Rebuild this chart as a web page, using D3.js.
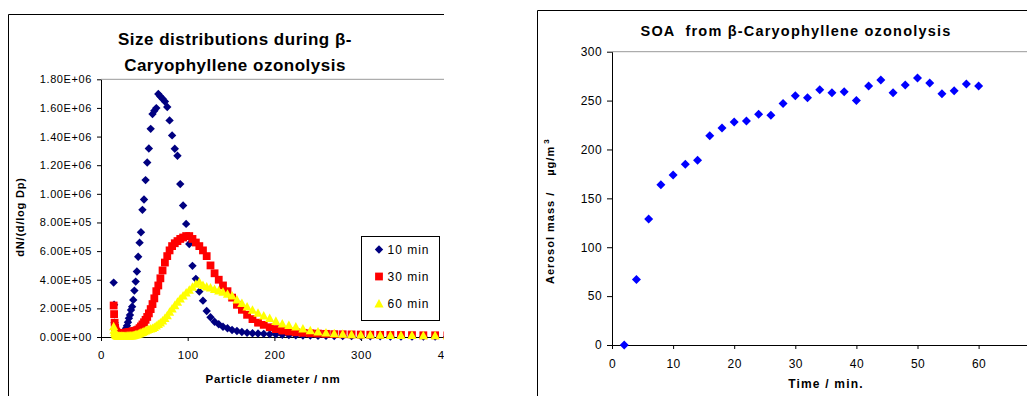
<!DOCTYPE html>
<html>
<head>
<meta charset="utf-8">
<script src="https://cdn.jsdelivr.net/npm/d3@7"></script>
<style>
  body { margin: 0; background: #fff; }
  svg { display: block; font-family: "Liberation Sans", Arial, sans-serif; }
  .pre { white-space: pre; }
</style>
</head>
<body>
<div id="chart"></div>
<script>
// particle diameters (nm), SMPS bins
const diameters = [14.6, 15.1, 15.7, 16.3, 16.8, 17.5, 18.1, 18.8, 19.5, 20.2, 20.9, 21.7, 22.5, 23.3, 24.1, 25.0,
  25.9, 26.9, 27.9, 28.9, 30.0, 31.1, 32.2, 33.4, 34.6, 35.9, 37.2, 38.5, 40.0, 41.4, 42.9, 44.5, 46.1, 47.8,
  49.6, 51.4, 53.3, 55.2, 57.3, 59.4, 61.5, 63.8, 66.1, 68.5, 71.0, 73.7, 76.4, 79.1, 82.0, 85.1, 88.2, 91.4,
  94.7, 98.2, 101.8, 105.5, 109.4, 113.4, 117.6, 121.9, 126.3, 131.0, 135.8, 140.7, 145.9, 151.2, 156.8, 162.5,
  168.5, 174.7, 181.1, 187.7, 194.6, 201.7, 209.1, 216.7, 224.7, 232.9, 241.4, 250.3, 259.5, 269.0, 278.8, 289.0,
  299.6, 310.6, 322.0, 333.8, 346.0, 358.7, 371.8, 385.4, 399.5];

const min10 = [380000, 225000, 100000, 50000, 25000, 15000, 10000, 8000, 8000, 9000, 11000, 13000, 16000, 19000,
  22000, 26000, 30000, 36000, 45000, 61000, 79000, 103000, 131000, 154000, 189000, 212000, 259000, 324000, 387000,
  457000, 561000, 659000, 732000, 888000, 960000, 1096000, 1219000, 1317000, 1454000, 1557000, 1580000, 1599000,
  1697000, 1680000, 1664000, 1645000, 1606000, 1513000, 1408000, 1315000, 1266000, 1068000, 918000, 790000,
  650000, 497000, 406000, 317000, 254000, 182000, 138000, 107000, 89000, 72000, 61000, 49000, 42000, 35000,
  30000, 26000, 24000, 22000, 20000, 18000, 16000, 14000, 12000, 11000, 10000, 9000, 8000, 7000, 7000, 6000,
  6000, 5000, 5000, 4000, 4000, 4000, 3000, 3000, 3000];

const min30 = [220000, 160000, 100000, 65000, 45000, 36000, 31000, 28000, 26000, 25000, 25000, 25000, 25000,
  25000, 26000, 26000, 27000, 28000, 29000, 30000, 31000, 32000, 33000, 34000, 36000, 38000, 40000, 42000, 44000,
  47000, 52000, 62000, 74000, 88000, 103000, 120000, 140000, 165000, 195000, 230000, 270000, 320000, 360000,
  410000, 465000, 520000, 565000, 605000, 635000, 655000, 670000, 685000, 695000, 705000, 705000, 685000, 660000,
  635000, 605000, 565000, 500000, 445000, 400000, 360000, 320000, 275000, 225000, 190000, 155000, 125000, 100000,
  85000, 68000, 55000, 45000, 38000, 33000, 29000, 26000, 24000, 22000, 20000, 19000, 18000, 17000, 16000, 15000,
  14000, 14000, 13000, 12000, 12000, 11000];

const min60 = [75000, 50000, 35000, 25000, 18000, 14000, 11000, 9000, 8000, 7000, 6000, 6000, 6000, 6000, 6000,
  6000, 6000, 7000, 7000, 7000, 8000, 8000, 8000, 9000, 9000, 10000, 12000, 14000, 16000, 19000, 22000, 26000,
  30000, 35000, 40000, 45000, 50000, 55000, 58000, 63000, 70000, 80000, 90000, 100000, 115000, 132000, 152000,
  175000, 198000, 222000, 245000, 268000, 290000, 310000, 330000, 350000, 372000, 385000, 362000, 352000, 345000,
  335000, 325000, 315000, 302000, 290000, 262000, 236000, 212000, 190000, 168000, 150000, 132000, 112000, 94000,
  83000, 72000, 58000, 47000, 38000, 31000, 26000, 22000, 19000, 17000, 16000, 15000, 14000, 13000, 13000, 12000,
  12000, 11000];

const seriesNames = ["10 min", "30 min", "60 min"];

// SOA mass vs time
const times = [2, 4, 6, 8, 10, 12, 14, 16, 18, 20, 22, 24, 26, 28, 30, 32, 34, 36, 38, 40, 42, 44, 46, 48, 50,
  52, 54, 56, 58, 60];
const aerosolMass = [0, 67, 129, 164, 174, 185, 189, 214, 222, 228, 229, 236, 235, 247, 255, 253, 261, 258, 259,
  250, 265, 271, 258, 266, 273, 268, 257, 260, 267, 265];

const leftYTicks = [0, 200000, 400000, 600000, 800000, 1000000, 1200000, 1400000, 1600000, 1800000];
const leftXTicks = [0, 100, 200, 300, 400];
const rightYTicks = [0, 50, 100, 150, 200, 250, 300];
const rightXTicks = [0, 10, 20, 30, 40, 50, 60];

const W = 1027, H = 396;
const svg = d3.select("#chart").append("svg").attr("width", W).attr("height", H);

// marker paths
const diamond = r => `M0,${-r}L${r},0L0,${r}L${-r},0Z`;
const square = r => `M${-r},${-r}H${r}V${r}H${-r}Z`;
const triangle = r => `M0,${-r}L${r},${r * 0.85}L${-r},${r * 0.85}Z`;

// "1.80E+06" style
const fmtE = v => {
  if (v === 0) return "0.00E+00";
  const e = Math.floor(Math.log10(v));
  const m = v / Math.pow(10, e);
  return m.toFixed(2) + "E+" + String(e).padStart(2, "0");
};

function styleAxis(g, size, spacing) {
  g.select(".domain").attr("stroke", "#000");
  g.selectAll(".tick line").attr("stroke", "#000");
  g.selectAll(".tick text").attr("fill", "#000").attr("font-size", size).attr("letter-spacing", spacing);
}

// ---------- left chart ----------
svg.append("clipPath").attr("id", "leftClip")
  .append("rect").attr("x", 0).attr("y", 0).attr("width", 444).attr("height", H);

const left = svg.append("g").attr("clip-path", "url(#leftClip)");

const xL = d3.scaleLinear().domain([0, 500]).range([101, 534.5]);
const yL = d3.scaleLinear().domain([0, 1800000]).range([337, 79.3]);

left.append("path").attr("d", "M8.5,396V14.5H444").attr("fill", "none").attr("stroke", "#000");
left.append("line").attr("x1", xL(0)).attr("x2", 444).attr("y1", yL(1800000)).attr("y2", yL(1800000))
  .attr("stroke", "#999");

left.append("g").attr("transform", `translate(${xL(0)},0)`)
  .call(d3.axisLeft(yL).tickValues(leftYTicks).tickFormat(fmtE).tickSize(4).tickPadding(5).tickSizeOuter(0))
  .call(g => styleAxis(g, 11, 0.6));

left.append("g").attr("transform", `translate(0,${yL(0)})`)
  .call(d3.axisBottom(xL).tickValues(leftXTicks).tickSize(4).tickPadding(10).tickSizeOuter(0))
  .call(g => styleAxis(g, 11.5, 0.6));

const sizeSeries = [
  { name: seriesNames[0], values: min10, color: "#000080", shape: diamond(4.2) },
  { name: seriesNames[1], values: min30, color: "#ff0000", shape: square(3.9) },
  { name: seriesNames[2], values: min60, color: "#ffff00", shape: triangle(4.6) }
];

sizeSeries.forEach(s => {
  left.append("g").selectAll("path")
    .data(diameters.map((d, i) => [d, s.values[i]]))
    .join("path")
    .attr("d", s.shape)
    .attr("fill", s.color)
    .attr("transform", d => `translate(${xL(d[0])},${yL(d[1])})`);
});

const titleL = left.append("text").attr("text-anchor", "middle").attr("font-weight", "bold")
  .attr("font-size", 17).attr("letter-spacing", 0.5);
titleL.append("tspan").attr("x", 235).attr("y", 45).text("Size distributions during β-");
titleL.append("tspan").attr("x", 235).attr("y", 71).text("Caryophyllene ozonolysis");

left.append("text").attr("transform", "translate(24,217) rotate(-90)").attr("text-anchor", "middle")
  .attr("font-weight", "bold").attr("font-size", 11).attr("letter-spacing", 0.8).text("dN/(d/log Dp)");

left.append("text").attr("x", 273).attr("y", 383).attr("text-anchor", "middle")
  .attr("font-weight", "bold").attr("font-size", 11.5).attr("letter-spacing", 0.7).text("Particle diameter / nm");

// legend
const legend = left.append("g").attr("transform", "translate(361.5,236.5)");
legend.append("rect").attr("width", 78).attr("height", 84).attr("fill", "#fff").attr("stroke", "#000");
sizeSeries.forEach((s, i) => {
  const row = legend.append("g").attr("transform", `translate(0,${13 + i * 27})`);
  row.append("path").attr("d", s.shape).attr("fill", s.color).attr("transform", "translate(17.5,0)");
  row.append("text").attr("x", 26).attr("y", 4.5).attr("font-size", 12).attr("letter-spacing", 1)
    .text(s.name);
});

// ---------- right chart ----------
const xR = d3.scaleLinear().domain([0, 70]).range([612, 1039.7]);
const yR = d3.scaleLinear().domain([0, 300]).range([345, 51.7]);

svg.append("path").attr("d", "M537.5,396V10.5H1027").attr("fill", "none").attr("stroke", "#000");
svg.append("line").attr("x1", xR(0)).attr("x2", W).attr("y1", yR(300)).attr("y2", yR(300)).attr("stroke", "#999");

svg.append("g").attr("transform", `translate(${xR(0)},0)`)
  .call(d3.axisLeft(yR).tickValues(rightYTicks).tickSize(5).tickPadding(5).tickSizeOuter(0))
  .call(g => styleAxis(g, 12, 0.4));

svg.append("g").attr("transform", `translate(0,${yR(0)})`)
  .call(d3.axisBottom(xR).tickValues(rightXTicks).tickSize(4).tickPadding(10).tickSizeOuter(0))
  .call(g => styleAxis(g, 12, 0.4));

svg.append("g").selectAll("path")
  .data(times.map((t, i) => [t, aerosolMass[i]]))
  .join("path")
  .attr("d", diamond(4.5))
  .attr("fill", "#0000ff")
  .attr("transform", d => `translate(${xR(d[0])},${yR(d[1])})`);

svg.append("text").attr("class", "pre").attr("x", 796).attr("y", 36).attr("text-anchor", "middle")
  .attr("font-weight", "bold").attr("font-size", 14.5).attr("letter-spacing", 1.2)
  .text("SOA  from β-Caryophyllene ozonolysis");

svg.append("text").attr("x", 826).attr("y", 388).attr("text-anchor", "middle")
  .attr("font-weight", "bold").attr("font-size", 12).attr("letter-spacing", 1.2).text("Time / min.");

const yTitleR = svg.append("text").attr("transform", "translate(554,284) rotate(-90)")
  .attr("font-weight", "bold").attr("font-size", 11).attr("letter-spacing", 1);
yTitleR.append("tspan").text("Aerosol mass /");
yTitleR.append("tspan").attr("dx", 16).text("µg/m");
yTitleR.append("tspan").attr("dx", 2).attr("dy", -5).attr("font-size", 8).text("3");
</script>
</body>
</html>
